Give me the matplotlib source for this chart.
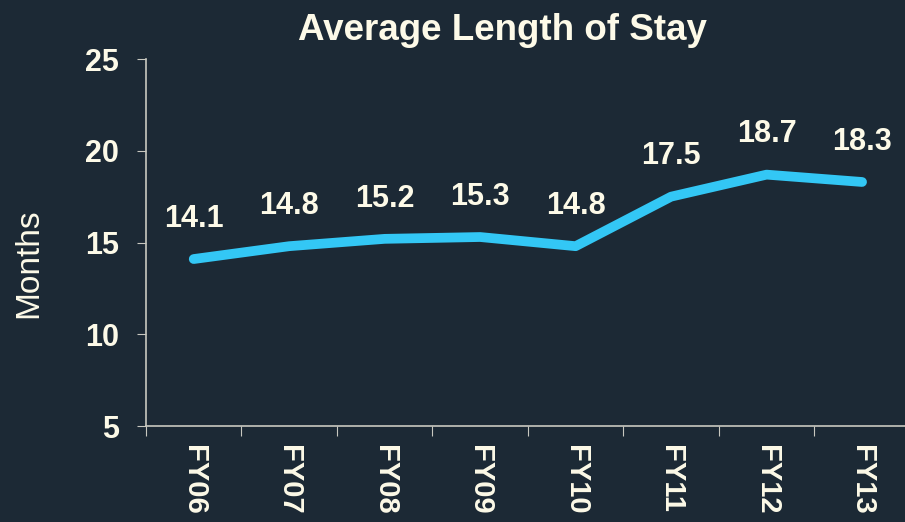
import matplotlib.pyplot as plt

years = ["FY06", "FY07", "FY08", "FY09", "FY10", "FY11", "FY12", "FY13"]
stay = [14.1, 14.8, 15.2, 15.3, 14.8, 17.5, 18.7, 18.3]

bg = "#1c2935"
fg = "#fdfae8"
line_color = "#33c7f5"

plt.rcParams["font.family"] = ["Liberation Sans", "DejaVu Sans"]

fig = plt.figure(figsize=(9.05, 5.22), dpi=100, facecolor=bg)
ax = fig.add_axes([0.1613, 0.1839, 0.844, 0.703], facecolor=bg)

x = range(len(years))
ax.plot(x, stay, color=line_color, linewidth=7, solid_capstyle="round",
        solid_joinstyle="round")
for xi, v in zip(x, stay):
    ax.annotate(f"{v:.1f}", (xi, v), xytext=(0, 29), textcoords="offset points",
                ha="center", va="center", color=fg, fontsize=22, fontweight="bold")

ax.set_xlim(-0.5, len(years) - 0.5)
ax.set_ylim(5, 25)
ax.set_yticks([5, 10, 15, 20, 25])
ax.set_xticks([i - 0.5 for i in range(len(years) + 1)], minor=False)
ax.set_xticklabels([])
ax.set_xticks(list(x), minor=True)
ax.set_xticklabels(years, minor=True, rotation=270, fontsize=21, color=fg,
                   fontweight="bold")
ax.tick_params(axis="x", which="minor", length=0, pad=14)
ax.tick_params(axis="x", which="major", length=7, color="#c8c8c0", direction="out")
ax.tick_params(axis="y", length=6.5, color="#c8c8c0", labelsize=22, labelcolor=fg, pad=13)
for lab in ax.get_yticklabels():
    lab.set_fontweight("bold")

for side in ["top", "right"]:
    ax.spines[side].set_visible(False)
for side in ["left", "bottom"]:
    ax.spines[side].set_color("#c8c8c0")
    ax.spines[side].set_linewidth(1.2)

ax.set_ylabel("Months", color=fg, fontsize=24)
ax.yaxis.set_label_coords(-0.133, 0.444)
fig.suptitle("Average Length of Stay", color=fg, fontsize=26.5, fontweight="bold",
             x=0.555, y=0.975)

fig.savefig("out.png", dpi=100, facecolor=bg)
